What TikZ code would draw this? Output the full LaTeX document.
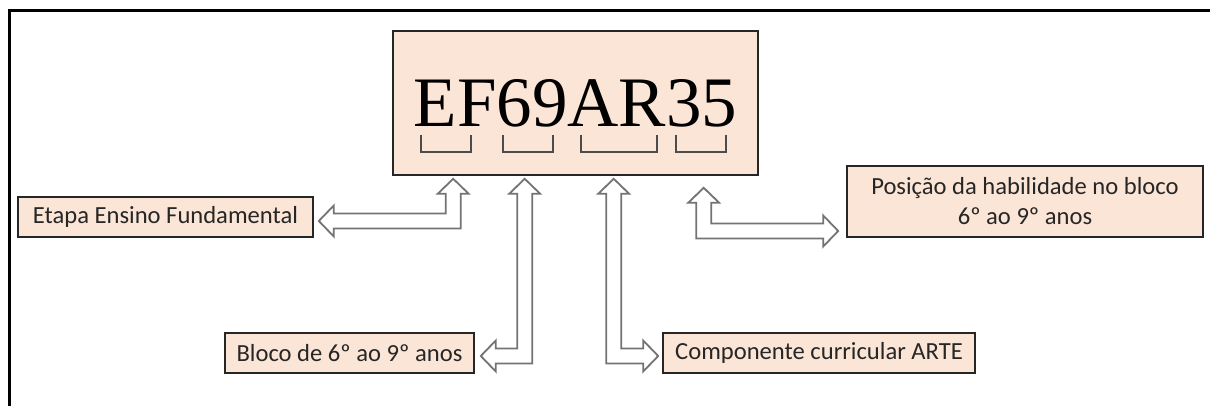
\documentclass[tikz,border=0pt]{standalone}
\usepackage{fontspec}
\setmainfont{Liberation Serif}
\newfontfamily\labelfont{Carlito}
\usetikzlibrary{calc, positioning}
\definecolor{peach}{HTML}{FBE5D6}
\definecolor{darkline}{HTML}{262626}
\newcommand{\arw}{3.75pt} % half width of the shaft
\newcommand{\arh}{7.75pt} % half width of the head
\newcommand{\arl}{7.5pt} % length of the head
% hollow bent arrow with two heads: #1 upper tip, #2 side tip, #3 = 1 (right) or -1 (left)
\newcommand{\bentarrow}[3]{%
	\draw[hollowarrow] let \p1=(#1), \p2=(#2), \n1={#3} in
		(\p1) -- ({\x1-(\n1)*\arh},{\y1-\arl}) -- ({\x1-(\n1)*\arw},{\y1-\arl})
		-- ({\x1-(\n1)*\arw},{\y2-\arw}) -- ({\x2-(\n1)*\arl},{\y2-\arw}) -- ({\x2-(\n1)*\arl},{\y2-\arh})
		-- (\p2) -- ({\x2-(\n1)*\arl},{\y2+\arh}) -- ({\x2-(\n1)*\arl},{\y2+\arw})
		-- ({\x1+(\n1)*\arw},{\y2+\arw}) -- ({\x1+(\n1)*\arw},{\y1-\arl}) -- ({\x1+(\n1)*\arh},{\y1-\arl}) -- cycle;
}
\tikzset{
	every node/.style={inner sep=0pt}, % sizes are given by hand
	codebox/.style={draw=darkline, line width=0.8pt, fill=peach, minimum width=182.5pt, minimum height=72pt,
		font=\fontsize{35.5}{40}\selectfont, text height=23.5pt, text depth=0pt}, % the big code
	labelbox/.style={draw=darkline, line width=0.8pt, fill=peach, minimum height=20pt,
		font=\labelfont\fontsize{12.3}{15}\selectfont, text=black!85, align=center}, % the small boxes
	bracket/.style={draw=black!70, line width=0.6pt}, % marks under the code
	hollowarrow/.style={draw=black!55, line width=0.9pt, fill=white, line join=miter}, % block arrows
	frame/.style={line width=1.5pt}, % outer border
}
\begin{document}
\begin{tikzpicture}[x=0.5pt, y=-0.5pt]
	\useasboundingbox (0,0) rectangle (1210,406);
	\draw[frame] (9,406) -- (9,11) -- (1210,11);

	\node[codebox] (code) at (575.5,103) {EF69AR35};
	\foreach \a/\b in {421/471, 503/553, 581/657, 676/726}
		\draw[bracket] (\a,135) -- (\a,152) -- (\b,152) -- (\b,135);

	\node[labelbox, minimum width=147.5pt] (etapa) at (165.5,217) {Etapa Ensino Fundamental};
	\node[labelbox, minimum width=124.5pt] (bloco) at (349.5,353) {Bloco de 6º ao 9º anos};
	\node[labelbox, minimum width=156pt] (comp) at (819,353) {Componente curricular ARTE};
	\node[labelbox, minimum width=178pt, minimum height=35.5pt] (pos) at (1025,201.5) {Posição da habilidade no bloco\\6º ao 9º anos};

	\coordinate (u1) at ($(code.south west)+(61,3)$);
	\coordinate (u2) at ($(code.south west)+(132.5,3)$);
	\coordinate (u3) at ($(code.south west)+(221.5,3)$);
	\coordinate (u4) at ($(code.south west)+(311.5,12)$);
	\coordinate (s1) at ($(etapa.east)+(5,4)$);
	\coordinate (s2) at ($(bloco.east)+(6,3)$);
	\coordinate (s3) at ($(comp.west)+(-4,3)$);
	\coordinate (s4) at ($(pos.west)+(-8,29.5)$);

	\bentarrow{u1}{s1}{-1}
	\bentarrow{u2}{s2}{-1}
	\bentarrow{u3}{s3}{1}
	\bentarrow{u4}{s4}{1}
\end{tikzpicture}
\end{document}
